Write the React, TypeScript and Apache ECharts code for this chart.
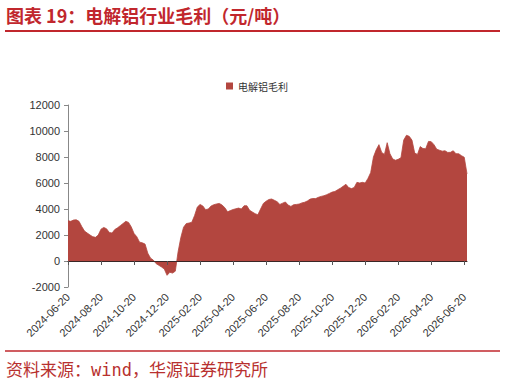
import React, { useEffect, useRef } from "react";
import * as echarts from "echarts";

const titleText = "图表 19：电解铝行业毛利（元/吨）";
const sourceText = "资料来源：wind，华源证券研究所";
const seriesName = "电解铝毛利";

const tickLabels = [
  "2024-06-20", "2024-08-20", "2024-10-20", "2024-12-20", "2025-02-20",
  "2025-04-20", "2025-06-20", "2025-08-20", "2025-10-20", "2025-12-20",
  "2026-02-20", "2026-04-20", "2026-06-20",
];
const lastDate = "2026-06-25";

const margin = [
  3100, 3050, 3150, 3170, 3050, 2650, 2300, 2150, 2000, 1870, 1820, 2000, 2450,
  2580, 2480, 2200, 2150, 2420, 2550, 2720, 2880, 3050, 2970, 2620, 2120,
  1870, 1450, 1400, 1300, 600, 220, 70, -200, -330, -460, -620, -1100,
  -870, -930, -780, 700, 1800, 2600, 2880, 2920, 2980, 3500, 4150, 4350,
  4230, 3950, 4000, 4230, 4330, 4390, 4430, 4300, 4100, 3780, 3880, 3960,
  4020, 4070, 4000, 4250, 4250, 3900, 3770, 3640, 3560, 4000, 4430, 4600,
  4730, 4770, 4670, 4560, 4350, 4450, 4540, 4300, 4200, 4330, 4350, 4380,
  4470, 4520, 4620, 4760, 4810, 4800, 4900, 4970, 5020, 5100, 5200, 5300,
  5350, 5480, 5600, 5750, 5900, 5650, 5570, 5650, 6050, 6000, 6050, 6000,
  6350, 6800, 8000, 8550, 8950, 8350, 8200, 9100, 8250, 7850, 7750, 7820,
  7950, 9300, 9670, 9590, 9300, 8300, 8200, 8800, 8650, 8640, 9200, 9180,
  8950, 8600, 8520, 8450, 8480, 8350, 8360, 8480, 8250, 8250, 8100, 7980,
  6700,
];

const STEPS = 12;

function fmt(d: Date): string {
  const y = d.getUTCFullYear();
  const m = String(d.getUTCMonth() + 1).padStart(2, "0");
  const dd = String(d.getUTCDate()).padStart(2, "0");
  return `${y}-${m}-${dd}`;
}

function buildCategories(): string[] {
  const cats: string[] = [];
  for (let s = 0; s < tickLabels.length - 1; s++) {
    const a = Date.parse(tickLabels[s] + "T00:00:00Z");
    const b = Date.parse(tickLabels[s + 1] + "T00:00:00Z");
    for (let k = 0; k < STEPS; k++) {
      cats.push(k === 0 ? tickLabels[s] : fmt(new Date(a + ((b - a) * k) / STEPS)));
    }
  }
  cats.push(tickLabels[tickLabels.length - 1]);
  cats.push(lastDate);
  return cats;
}

export default function App() {
  const ref = useRef<HTMLDivElement>(null);
  useEffect(() => {
    document.body.style.margin = "0";
    if (!ref.current) return;
    const chart = echarts.init(ref.current, null, { renderer: "svg" });
    const cats = buildCategories();
    const red = "#C1272D";
    const areaColor = "#B3463F";
    chart.setOption({
      animation: false,
      backgroundColor: "#fff",
      legend: {
        data: [seriesName],
        left: 221,
        top: 76,
        icon: "rect",
        itemWidth: 7,
        itemHeight: 7,
        textStyle: { fontSize: 10, color: "#333", fontFamily: "Noto Sans CJK SC" },
      },
      grid: { left: 68, right: 39, top: 105, bottom: 98, containLabel: false },
      xAxis: [
        {
          type: "category",
          data: cats,
          boundaryGap: false,
          z: 5,
          axisLine: { onZero: true, lineStyle: { color: "#3a2626", width: 1 } },
          axisTick: { show: true, interval: STEPS - 1, length: 4, lineStyle: { color: "#555" } },
          axisLabel: { show: false },
          splitLine: { show: false },
        },
        {
          type: "category",
          data: cats,
          boundaryGap: false,
          position: "bottom",
          axisLine: { show: false, onZero: false },
          axisTick: { show: false },
          axisLabel: {
            interval: STEPS - 1,
            rotate: 45,
            fontSize: 11,
            color: "#333",
            margin: 8,
            fontFamily: "Liberation Sans, Arial, sans-serif",
          },
          splitLine: { show: false },
        },
      ],
      yAxis: {
        type: "value",
        min: -2000,
        max: 12000,
        interval: 2000,
        axisLine: { show: true, lineStyle: { color: "#888" } },
        axisTick: { show: true, length: 4, lineStyle: { color: "#888" } },
        axisLabel: {
          fontSize: 11,
          color: "#333",
          margin: 8,
          fontFamily: "Liberation Sans, Arial, sans-serif",
          formatter: (v: number) => String(v),
        },
        splitLine: { show: false },
      },
      series: [
        {
          name: seriesName,
          type: "line",
          xAxisIndex: 0,
          data: margin,
          showSymbol: false,
          symbol: "none",
          itemStyle: { color: areaColor },
          lineStyle: { color: areaColor, width: 0.8 },
          areaStyle: { color: areaColor, opacity: 1 },
        },
      ],
      graphic: [
        {
          type: "text",
          style: {
            text: titleText,
            x: 6,
            y: 15,
            verticalAlign: "middle",
            fill: red,
            font: 'bold 18px "Noto Sans CJK SC"',
          },
        },
        {
          type: "line",
          shape: { x1: 5, y1: 31, x2: 500, y2: 31 },
          style: { stroke: red, lineWidth: 2 },
        },
        {
          type: "line",
          shape: { x1: 5, y1: 351, x2: 500, y2: 351 },
          style: { stroke: red, lineWidth: 1.5 },
        },
        {
          type: "text",
          style: {
            text: sourceText,
            x: 6,
            y: 370,
            verticalAlign: "middle",
            fill: "#B8312F",
            font: '17px "DejaVu Sans Mono", "Noto Sans CJK SC"',
          },
        },
      ],
    });
    return () => chart.dispose();
  }, []);
  return <div ref={ref} style={{ width: 506, height: 385 }} />;
}
